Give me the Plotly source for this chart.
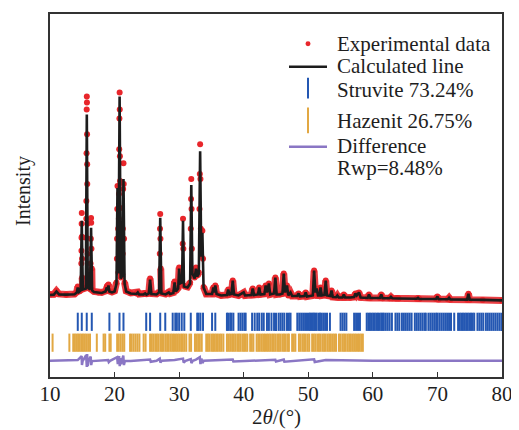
import plotly.graph_objects as go

# ---- Calculated profile (2theta, intensity a.u.) ----
calc_2theta = [10.0, 10.6, 11.0, 11.4, 12.5, 13.8, 14.15, 14.3, 14.5, 14.75, 14.92, 15.08, 15.55, 15.7, 15.85,
               16.2, 16.36, 16.52, 16.8, 17.5, 18.0, 18.6, 18.8, 18.92, 19.05, 19.2, 19.6, 20.0, 20.3, 20.45,
               20.6, 20.78, 20.95, 21.2, 21.38, 21.55, 21.8, 22.5, 23.4, 23.6, 23.8, 24.5, 24.75, 24.95, 25.3,
               25.5, 25.7, 26.5, 26.9, 27.07, 27.25, 27.9, 28.4, 28.6, 29.1, 29.3, 29.5, 29.85, 30.0, 30.15,
               30.45, 30.6, 30.75, 31.3, 31.7, 31.88, 32.05, 32.4, 32.6, 32.8, 33.05, 33.25, 33.42, 33.6, 33.78,
               34.2, 35.1, 35.3, 35.45, 35.6, 35.8, 36.5, 37.4, 37.6, 37.8, 38.1, 38.3, 38.5, 39.2, 40.0,
               40.2, 41.2, 41.4, 41.6, 42.2, 42.4, 42.6, 43.2, 43.4, 43.6, 43.9, 44.1, 44.7, 44.9, 45.1,
               45.6, 46.0, 46.2, 46.4, 46.7, 46.9, 47.25, 47.5, 48.3, 48.5, 48.7, 49.4, 49.6, 49.8, 50.7,
               50.9, 51.1, 51.3, 51.5, 51.75, 51.9, 52.1, 52.5, 52.7, 52.9, 53.4, 53.6, 53.8, 54.3, 54.5,
               54.7, 55.3, 55.5, 55.7, 56.5, 57.1, 57.3, 57.5, 57.85, 58.1, 59.2, 59.4, 59.6, 61.1, 61.3,
               61.5, 62.6, 62.8, 63.0, 63.6, 63.8, 64.0, 66.8, 67.0, 67.2, 69.8, 70.0, 70.2, 71.6, 71.8,
               72.0, 74.6, 74.8, 75.0, 77.0, 80.0]
calc_intensity = [35, 38, 70, 40, 38, 42, 60, 110, 65, 80, 780, 90, 100, 1850, 110,
                  90, 710, 80, 65, 55, 55, 70, 110, 80, 130, 70, 60, 70, 150, 1110,
                  250, 2030, 200, 230, 1200, 150, 70, 50, 45, 60, 40, 40, 50, 38, 50,
                  190, 45, 40, 60, 810, 50, 40, 60, 45, 55, 160, 70, 100, 300, 150,
                  160, 780, 120, 110, 150, 1140, 250, 200, 300, 220, 250, 1480, 420, 660, 110,
                  45, 45, 110, 60, 130, 45, 30, 35, 90, 40, 45, 180, 40, 30, 60,
                  30, 35, 100, 35, 40, 110, 40, 45, 130, 60, 150, 40, 50, 210, 40,
                  40, 50, 250, 60, 130, 30, 60, 25, 25, 50, 20, 25, 60, 20, 30,
                  280, 60, 100, 30, 30, 110, 30, 35, 180, 30, 25, 80, 15, 12, 30,
                  10, 10, 40, 10, 10, 15, 50, 30, 60, 10, 5, 40, 5, 5, 40,
                  3, 2, 15, 2, 0, 5, 0, -3, 5, -5, -5, 20, -8, -8, 7,
                  -10, -12, 47, -12, -15, -20]

# ---- Experimental points on the strong reflections (10-34 deg) ----
obs_head_2theta = [10.0, 10.6, 11.0, 11.4, 12.5, 13.8, 14.15, 14.3, 14.5, 14.75,
                   14.85, 14.87, 14.88, 14.9, 14.92, 14.95, 14.97, 14.98, 15.08,
                   15.55, 15.6, 15.62, 15.63, 15.66, 15.68, 15.7, 15.72, 15.74, 15.76, 15.77, 15.8, 15.82, 15.85,
                   16.2, 16.28, 16.33, 16.36, 16.38, 16.42, 16.47, 16.52,
                   16.8, 17.5, 18.0, 18.6, 18.8, 18.92, 19.05, 19.2, 19.6, 20.0, 20.3,
                   20.36, 20.38, 20.42, 20.45, 20.55, 20.6, 20.66, 20.68, 20.72, 20.75, 20.78, 20.8, 20.83,
                   20.85, 20.87, 20.95,
                   21.2, 21.25, 21.28, 21.33, 21.38, 21.42, 21.47, 21.55,
                   21.8, 22.5, 23.4, 23.6, 23.8, 24.5, 24.75, 24.95, 25.3, 25.5, 25.7, 26.5, 26.9,
                   27.0, 27.04, 27.07, 27.1, 27.15, 27.25,
                   27.9, 28.4, 28.6, 29.1, 29.3, 29.5, 29.85, 30.0, 30.15, 30.45,
                   30.55, 30.6, 30.65, 30.75,
                   31.3, 31.7, 31.8, 31.85, 31.88, 31.92, 31.97, 32.05,
                   32.4, 32.6, 32.8, 33.05,
                   33.15, 33.2, 33.25, 33.3, 33.36, 33.42, 33.6, 33.7, 33.78]
obs_head_intensity = [40, 42, 75, 45, 40, 45, 65, 120, 70, 90,
                      350, 480, 610, 750, 860, 620, 400, 210, 95,
                      105, 610, 800, 980, 1460, 1900, 2030, 1970, 1650, 1350, 1150, 750, 450, 120,
                      95, 350, 600, 810, 760, 500, 300, 85,
                      70, 60, 60, 75, 120, 85, 140, 75, 65, 75, 160,
                      400, 600, 900, 1130, 700, 260, 800, 1050, 1500, 1810, 2070, 1900, 1430,
                      1180, 910, 210,
                      240, 450, 700, 1100, 1360, 1150, 600, 160,
                      75, 55, 50, 65, 45, 45, 55, 42, 55, 200, 50, 45, 65,
                      450, 700, 850, 600, 300, 55,
                      45, 65, 50, 60, 170, 75, 105, 310, 155, 170,
                      550, 800, 500, 125,
                      115, 160, 700, 1000, 1200, 900, 500, 260,
                      210, 310, 230, 260,
                      900, 1250, 1550, 1200, 700, 430, 680, 400, 115]

# ---- Difference curve ----
diff_2theta = [10, 14.0, 14.3, 14.9, 14.95, 15.05, 15.6, 15.7, 15.75, 15.85, 15.95, 16.3, 16.38, 16.5,
               17.5, 19.0, 19.1, 19.3, 20.4, 20.5, 20.7, 20.8, 20.9, 21.0, 21.35, 21.45, 21.6, 22.5,
               25.5, 25.6, 26.5, 27.0, 27.1, 27.3, 29.3, 30.6, 30.7, 31.0, 31.8, 31.9, 32.1, 32.6,
               33.2, 33.3, 33.45, 33.6, 33.8, 35.0, 38.3, 38.4, 44.9, 45.0, 46.2, 46.3, 50.9, 51.0,
               52.7, 60.0, 80.0]
diff_intensity = [-627, -625, -620, -580, -670, -630, -570, -690, -560, -680, -630, -585, -670, -630,
                  -625, -620, -640, -627, -590, -660, -580, -680, -600, -660, -575, -670, -627, -630,
                  -615, -637, -627, -605, -645, -627, -620, -605, -645, -627, -610, -650, -627, -615,
                  -590, -660, -605, -650, -627, -625, -615, -635, -617, -635, -615, -637, -612, -640,
                  -620, -627, -627]

# ---- Bragg positions ----
struvite_pos = [14.3, 14.92, 15.69, 16.47, 19.2, 20.76, 21.38, 24.9, 25.5, 27.07, 27.85, 29.0, 29.4, 29.65,
                30.0, 30.4, 30.8, 31.8, 32.8, 33.0, 33.3, 33.7, 35.1, 35.6, 37.4, 37.6, 37.9, 38.1, 38.4,
                39.2, 39.5, 39.8, 40.1, 40.3, 41.3, 41.7, 42.1, 42.4, 42.8, 43.1, 43.6, 43.9, 44.3, 44.7,
                45.0, 45.4, 45.7, 46.0, 46.3, 46.7, 47.0, 47.25, 48.3, 48.6, 48.9, 49.2, 49.5, 49.8, 50.1,
                50.3, 50.5, 50.7, 50.9, 51.1, 51.3, 51.6, 51.8, 52.0, 52.3, 52.6, 52.9, 53.35, 55.0, 55.3,
                55.6, 55.9, 57.1, 57.4, 57.7, 58.0, 59.05, 59.3, 59.55, 59.8, 60.05, 60.3, 60.55, 60.8,
                61.05, 61.3, 61.5, 61.7, 62.0, 62.3, 62.6, 62.95, 63.5, 63.8, 64.1, 64.5, 64.8, 65.1, 65.4,
                65.7, 66.0, 66.5, 66.8, 67.1, 67.4, 67.7, 68.0, 68.2, 68.6, 68.9, 69.2, 69.5, 69.8, 70.0,
                70.3, 70.6, 70.9, 71.2, 71.5, 71.8, 72.1, 72.6, 73.2, 73.45, 73.7, 73.95, 74.2, 74.45,
                74.7, 74.95, 75.2, 75.45, 75.7, 76.2, 76.5, 76.8, 77.1, 77.5, 77.8, 78.1, 78.4, 78.7,
                79.0, 79.3, 79.6, 79.9]
hazenit_pos = [10.4, 13.0, 13.6, 13.85, 14.1, 14.35, 14.6, 14.85, 15.1, 15.35, 15.6, 15.9, 16.2, 17.25,
               18.3, 18.55, 19.2, 19.4, 20.4, 20.65, 20.95, 21.25, 21.5, 22.4, 22.65, 22.95, 23.25, 23.55,
               23.85, 24.5, 24.8, 25.5, 25.75, 26.0, 26.3, 26.55, 26.8, 27.1, 27.35, 27.6, 27.9, 28.15,
               28.4, 28.7, 28.95, 29.2, 29.5, 29.75, 30.0, 30.3, 30.55, 30.8, 31.1, 31.6, 31.85, 32.45,
               32.7, 32.95, 33.2, 33.5, 34.2, 34.45, 34.7, 35.0, 35.25, 35.5, 35.75, 36.0, 36.3, 36.55,
               36.85, 37.4, 37.65, 37.9, 38.2, 38.45, 38.7, 39.0, 39.25, 39.5, 39.8, 40.05, 40.3, 40.55,
               41.0, 41.25, 41.5, 42.0, 42.25, 42.5, 42.8, 43.05, 43.3, 43.6, 43.85, 44.1, 44.4, 44.65,
               44.9, 45.2, 45.45, 45.7, 46.0, 46.25, 46.5, 46.8, 47.0, 47.5, 47.75, 48.0, 48.55, 48.8,
               49.1, 49.35, 49.6, 49.9, 50.15, 50.6, 50.85, 51.1, 51.4, 51.65, 51.9, 52.2, 52.45, 52.7,
               53.0, 53.25, 53.5, 53.8, 54.05, 54.3, 54.75, 55.0, 55.3, 55.55, 55.8, 56.1, 56.35, 56.6,
               56.9, 57.15, 57.4, 57.7, 57.95, 58.2, 58.45]
struvite_level = -235
hazenit_level = -445

x_ticks = [10, 20, 30, 40, 50, 60, 70, 80]
legend_labels = ["Experimental data", "Calculated line", "Struvite 73.24%", "Hazenit 26.75%",
                 "Difference", "Rwp=8.48%"]

# experimental = strong-peak head + remaining profile
obs_2theta = obs_head_2theta + [x for x in calc_2theta if x > 33.8]
obs_intensity = obs_head_intensity + [y for x, y in zip(calc_2theta, calc_intensity) if x > 33.8]
# thick band only along the low part of the pattern
band_intensity = [y if y <= 320 else None for y in obs_intensity]

FONT = "Liberation Serif, Times New Roman, serif"
RED = "#e8262b"
BLACK = "#1c1c1c"
BLUE = "#2457b2"
ORANGE = "#e2a843"
PURPLE = "#8a76c4"
TXT = "#1e1e1e"

# page-pixel -> paper helpers (page has an 8px body margin; plot area 50..502 x 12..377)
PL, PR, PT, PB = 50, 502, 12, 377
def px_x(p):
    return (p - PL) / (PR - PL)
def px_y(p):
    return (PB - p) / (PB - PT)

fig = go.Figure()
fig.add_trace(go.Scatter(x=obs_2theta, y=band_intensity, mode="lines", connectgaps=False,
                         line=dict(color="rgba(232,38,43,0.88)", width=7),
                         showlegend=False, hoverinfo="skip"))
fig.add_trace(go.Scatter(x=obs_2theta, y=obs_intensity, mode="markers",
                         marker=dict(color=RED, size=6), name=legend_labels[0], showlegend=False))
fig.add_trace(go.Scatter(x=calc_2theta, y=calc_intensity, mode="lines",
                         line=dict(color=BLACK, width=2.6), name=legend_labels[1], showlegend=False))
fig.add_trace(go.Scatter(x=struvite_pos, y=[struvite_level] * len(struvite_pos), mode="markers",
                         marker=dict(symbol="line-ns", size=13, line=dict(color=BLUE, width=2)),
                         name=legend_labels[2], showlegend=False))
fig.add_trace(go.Scatter(x=hazenit_pos, y=[hazenit_level] * len(hazenit_pos), mode="markers",
                         marker=dict(symbol="line-ns", size=13, line=dict(color=ORANGE, width=2)),
                         name=legend_labels[3], showlegend=False))
fig.add_trace(go.Scatter(x=diff_2theta, y=diff_intensity, mode="lines",
                         line=dict(color=PURPLE, width=2.5), name=legend_labels[4], showlegend=False))

# manual legend (symbols as shapes, labels as annotations)
text_x = px_x(335)
text_y = [42, 64, 88, 120, 145, 167]
shapes = [
    dict(type="circle", xref="paper", yref="paper", x0=px_x(305.5), x1=px_x(310.5),
         y0=px_y(44.5), y1=px_y(39.5), fillcolor=RED, line=dict(width=0)),
    dict(type="line", xref="paper", yref="paper", x0=px_x(289), x1=px_x(327),
         y0=px_y(65), y1=px_y(65), line=dict(color=BLACK, width=2.5)),
    dict(type="line", xref="paper", yref="paper", x0=px_x(308), x1=px_x(308),
         y0=px_y(76), y1=px_y(97), line=dict(color=BLUE, width=2)),
    dict(type="line", xref="paper", yref="paper", x0=px_x(308), x1=px_x(308),
         y0=px_y(106), y1=px_y(132), line=dict(color=ORANGE, width=2)),
    dict(type="line", xref="paper", yref="paper", x0=px_x(289), x1=px_x(327),
         y0=px_y(145.5), y1=px_y(145.5), line=dict(color=PURPLE, width=2.5)),
]
annotations = [dict(text=t, xref="paper", yref="paper", x=text_x, y=px_y(yy), xanchor="left",
                    yanchor="middle", showarrow=False, font=dict(family=FONT, size=21, color=TXT))
               for t, yy in zip(legend_labels, text_y)]
annotations += [
    dict(text="2<i>θ</i>/(°)", xref="paper", yref="paper", x=0.5, y=px_y(417),
         xanchor="center", yanchor="middle", showarrow=False,
         font=dict(family=FONT, size=21, color=TXT)),
    dict(text="Intensity", xref="paper", yref="paper", x=px_x(23), y=px_y(190),
         xanchor="center", yanchor="middle", textangle=-90, showarrow=False,
         font=dict(family=FONT, size=20, color=TXT)),
]

fig.update_layout(
    width=511, height=422,
    margin=dict(l=42, r=17, t=4, b=53),
    paper_bgcolor="white", plot_bgcolor="white",
    font=dict(family=FONT, size=20, color=TXT),
    showlegend=False,
    shapes=shapes,
    annotations=annotations,
    xaxis=dict(range=[10, 80], tickvals=x_ticks, ticks="inside", ticklen=5, tickwidth=1.2,
               tickcolor="#333", showline=True, linecolor="#333", linewidth=1.5, mirror=True,
               showgrid=False, zeroline=False, ticklabelstandoff=-3,
               tickfont=dict(family=FONT, size=21, color=TXT)),
    yaxis=dict(range=[-790, 2860], showticklabels=False, ticks="", showline=True, linecolor="#333",
               linewidth=1.5, mirror=True, showgrid=False, zeroline=False),
)

fig.write_html("out.html")
